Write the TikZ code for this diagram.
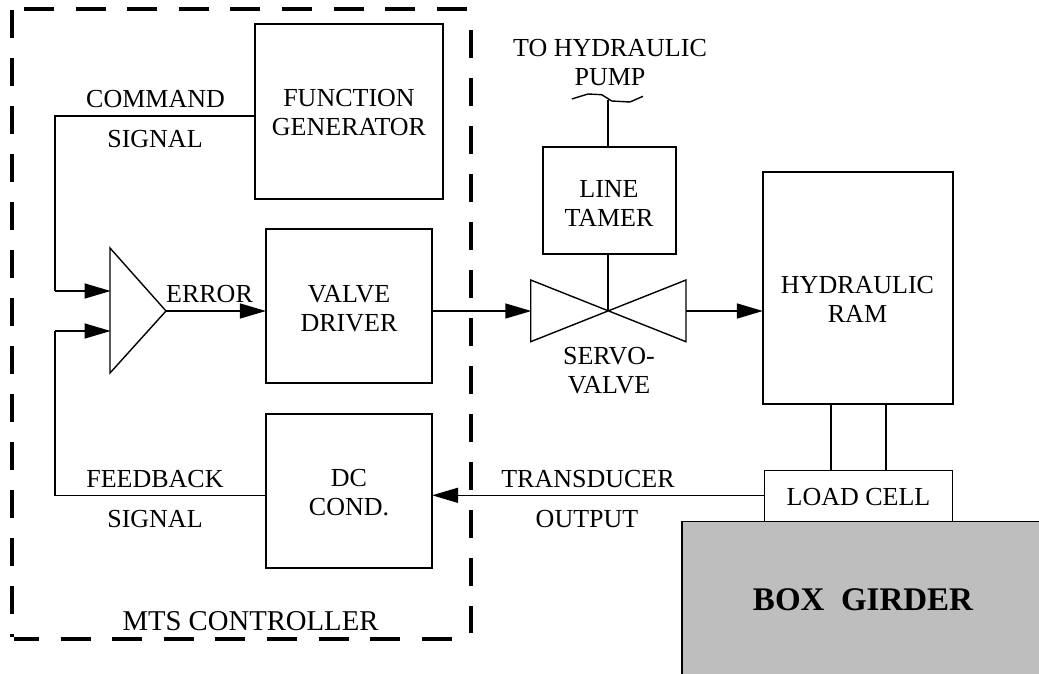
\documentclass[tikz,border=0pt]{standalone}
\usepackage{fontspec}
\setmainfont{Liberation Serif}
\usetikzlibrary{arrows.meta}
\definecolor{girdergray}{RGB}{190,190,190}
\tikzset{
	every node/.style={font=\fontsize{26}{29}\selectfont, align=center, inner sep=0pt},
	block/.style={draw, line width=1.4pt, minimum width=#1},
	wire/.style={line width=1.4pt},
	flow/.style={line width=1.4pt, -{Triangle[length=26pt, width=15pt]}, shorten >=-0.6pt},
	borderh/.style={line width=3.6pt, dash pattern=on 30pt off 21.6pt},
	borderv/.style={line width=3.6pt, dash pattern=on 28pt off 20pt}
}
\begin{document}
\begin{tikzpicture}[x=1pt, y=-1pt]
	\useasboundingbox (0,0) rectangle (1039,674);
	\draw[borderh] (24,9) -- (467,9);
	\draw[borderh, dash phase=5pt] (14,639) -- (453,639);
	\draw[borderv] (12,10) -- (12,637);
	\draw[borderv] (471,30) -- (471,633);
	\fill[girdergray] (682,521.7) rectangle (1039,674);
	\draw[wire] (682,674) -- (682,521.7) -- (1039,521.7);

	\node[block=188pt, minimum height=175pt] (fgen) at (349,111.5) {};
	\node[block=166pt, minimum height=154pt] (vdriver) at (349,306) {};
	\node[block=166pt, minimum height=154pt] (dccond) at (349,491) {};
	\node[block=133pt, minimum height=107pt] (tamer) at (609.4,200.5) {};
	\node[block=190pt, minimum height=232pt] (ram) at (858,288) {};
	\node[block=55pt, minimum height=66.3pt] (rod) at (858.4,437.2) {};
	\node[block=188.4pt, minimum height=51.4pt] (cell) at (858.5,496) {};

	\node (fgentext) at (349,113) {FUNCTION\\GENERATOR};
	\node (vdrivertext) at (349,309) {VALVE\\DRIVER};
	\node (dccondtext) at (349,493) {DC\\COND.};
	\node (tamertext) at (609,203) {LINE\\TAMER};
	\node (ramtext) at (857.5,299) {HYDRAULIC\\RAM};
	\node (celltext) at (858.5,497) {LOAD CELL};
	\node (cmdtop) at (155.5,99) {COMMAND};
	\node (cmdbot) at (155,139) {SIGNAL};
	\node (fbtop) at (155,479) {FEEDBACK};
	\node (fbbot) at (155,519) {SIGNAL};
	\node (err) at (209.5,294) {ERROR};
	\node[font=\fontsize{28.7}{32}\selectfont] (mts) at (250.5,621) {MTS CONTROLLER};
	\node (pump) at (610,62.5) {TO HYDRAULIC\\PUMP};
	\node (servo) at (609,370.5) {SERVO-\\VALVE};
	\node (tdtop) at (588,479) {TRANSDUCER};
	\node (tdbot) at (587,519) {OUTPUT};
	\node[font=\fontsize{33}{36}\selectfont\bfseries] (girder) at (863,600) {BOX\ \ GIRDER};

	\coordinate (ampt) at (110,248);
	\coordinate (ampb) at (110,373);
	\coordinate (ampo) at (166,311);
	\coordinate (vlt) at (530.7,280);
	\coordinate (vlb) at (530.7,341.7);
	\coordinate (vrt) at (686,280);
	\coordinate (vrb) at (686,341.7);
	\coordinate (vc) at (608,311);
	\coordinate (vl) at (530.7,311);
	\coordinate (vr) at (686,311);
	\coordinate (cmdc) at (55,116);
	\coordinate (cmdi) at (55,291);
	\coordinate (fbc) at (55,495.3);
	\coordinate (fbi) at (55,331);
	\coordinate (pipe) at (608,100);

	\draw[wire] (ampt) -- (ampo) -- (ampb) -- cycle;
	\draw[wire] (vlt) -- (vrb) -- (vrt) -- (vlb) -- cycle;

	\draw[wire] (fgen.west |- cmdc) -- (cmdc) -- (cmdi);
	\draw[flow] (cmdi) -- (ampt |- cmdi);
	\draw[wire] (dccond.west |- fbc) -- (fbc) -- (fbi);
	\draw[flow] (fbi) -- (ampt |- fbi);
	\draw[flow] (ampo) -- (vdriver.west |- ampo);
	\draw[flow] (vdriver.east |- vl) -- (vl);
	\draw[flow] (vr) -- (ram.west |- vr);
	\draw[flow] (cell.west |- fbc) -- (dccond.east |- fbc);
	\draw[wire] (tamer.south -| vc) -- (vc);
	\draw[wire] (tamer.north -| pipe) -- (pipe);
	\draw[wire] (571.7,99) -- (588,94) -- (601.7,94.7) -- (611.7,101) -- (630,102) -- (643,96.3);
\end{tikzpicture}
\end{document}
